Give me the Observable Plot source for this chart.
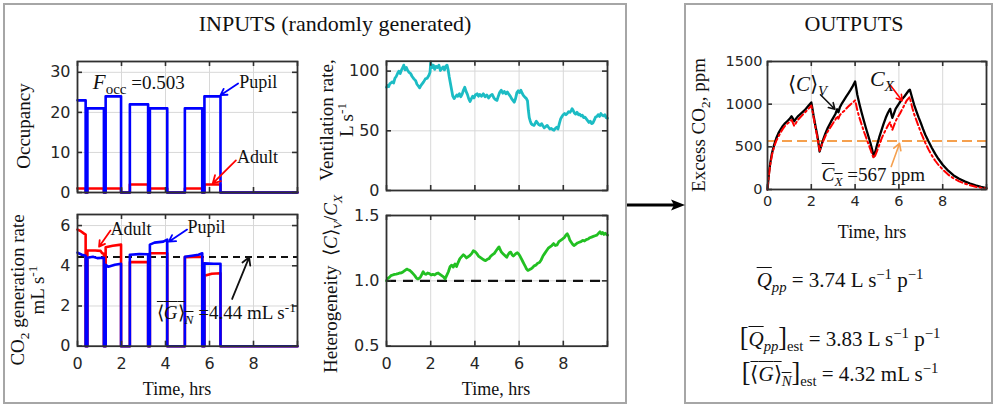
<!DOCTYPE html>
<html><head><meta charset="utf-8">
<script src="https://cdn.jsdelivr.net/npm/d3@7"></script>
<script src="https://cdn.jsdelivr.net/npm/@observablehq/plot@0.6"></script>
<style>
body{margin:0;background:#fff;}
#root{position:relative;width:995px;height:408px;overflow:hidden;background:#fff;font-family:"Liberation Serif","Times New Roman",serif;color:#111;font-weight:400;}
.box{position:absolute;border:2px solid #a6a6a6;box-sizing:border-box;}
.abs{position:absolute;white-space:nowrap;line-height:1;font-weight:400;}
.plot{position:absolute;}
.ylab{position:absolute;white-space:nowrap;transform:translate(-50%,-50%) rotate(-90deg);font-size:19px;text-align:center;line-height:1.05;font-weight:400;}
sub,sup{font-size:70%;line-height:0;}
.ol{text-decoration:overline;text-decoration-thickness:1.3px;}
.br{font-size:125%;}
</style></head>
<body><div id="root"></div>
<script>
// ---------------- DATA ----------------
// Occupancy (step after)
const occTime  = [0, 0.37, 0.45, 1.2, 1.28, 1.98, 2.38, 3.21, 3.29, 4.08, 4.88, 5.67, 5.77, 6.5, 10];
const pupilOcc = [23, 0, 21, 0, 24, 0, 22, 0, 21, 0, 21, 0, 24, 0, 0];
const adultOcc = [1, 0, 1, 0, 1, 0, 2, 0, 1, 0, 1, 0, 2, 0, 0];
// CO2 generation rate (mL/s)
const pupilGenT = [0,0.2,0.37,0.37,0.45,0.45,0.7,0.9,1.2,1.2,1.28,1.28,1.4,1.7,1.98,1.98,2.38,2.38,2.8,3.21,3.21,3.29,3.29,3.5,3.9,4.08,4.08,4.88,4.88,5.2,5.5,5.67,5.67,5.77,5.77,6.2,6.5,6.5,10];
const pupilGenV = [4.65,4.55,4.5,0,0,4.4,4.45,4.38,4.4,0,0,4.05,3.95,4.05,4.1,0,0,4.55,4.58,4.57,0,0,5.05,5.15,5.2,5.3,0,0,4.45,4.5,4.55,4.62,0,0,4.12,4.1,4.1,0,0];
const adultGenT = [0,0.15,0.3,0.37,0.37,0.45,0.45,0.8,1.05,1.12,1.2,1.2,1.28,1.28,1.6,1.98,1.98,2.38,2.38,3.21,3.21,3.29,3.29,4.08,4.08,4.88,4.88,5.67,5.67,5.77,5.77,6.1,6.5,6.5,10];
const adultGenV = [5.8,5.72,5.6,5.55,0,0,4.76,4.76,4.74,4.62,4.6,0,0,4.92,5.0,5.05,0,0,4.18,4.18,0,0,4.62,4.62,0,0,4.43,4.45,0,0,3.5,3.6,3.63,0,0];
const meanGen = 4.44;
// Ventilation rate (L/s)
const ventT = [0,0.05,0.1,0.15,0.2,0.26,0.32,0.38,0.44,0.5,0.56,0.62,0.68,0.74,0.78,0.84,0.9,0.96,1.02,1.09,1.16,1.24,1.32,1.38,1.44,1.5,1.56,1.62,1.68,1.76,1.84,1.92,1.97,2.0,2.06,2.12,2.18,2.24,2.3,2.37,2.44,2.5,2.56,2.62,2.68,2.74,2.79,2.84,2.9,2.95,3.0,3.06,3.12,3.18,3.23,3.3,3.36,3.42,3.48,3.54,3.6,3.66,3.72,3.78,3.84,3.9,3.96,4.02,4.1,4.16,4.22,4.3,4.38,4.46,4.54,4.62,4.7,4.78,4.86,4.94,5.0,5.06,5.12,5.19,5.26,5.33,5.4,5.47,5.54,5.6,5.66,5.72,5.78,5.84,5.9,5.96,6.02,6.08,6.14,6.2,6.27,6.33,6.38,6.42,6.46,6.5,6.55,6.61,6.67,6.72,6.78,6.84,6.9,6.96,7.02,7.08,7.14,7.2,7.27,7.33,7.39,7.45,7.52,7.58,7.64,7.7,7.76,7.82,7.88,7.94,8.0,8.06,8.12,8.18,8.24,8.3,8.36,8.4,8.45,8.5,8.56,8.62,8.68,8.74,8.8,8.86,8.92,8.98,9.04,9.1,9.16,9.22,9.28,9.34,9.4,9.46,9.52,9.58,9.64,9.7,9.76,9.82,9.88,9.94,10];
const ventV = [86.5,88,87,89.5,90,91,90,94,95.5,98,100,98,101,103,105,101,103,100.5,99,98,95.5,93.5,92,89,87.5,86,88,89.5,91,93.5,94,96.5,99,107,103,105,101.5,104,103,105,100.5,102,103.5,101,104,105,101,95,89,84,79,77,78.5,80,79,81,78.5,80.5,84,86.5,83,80.5,77,74.5,77,79,77.5,80,81,79,80.5,79,81,78.5,80,77.5,79.5,80.5,77.5,76,75.5,79,82,84,81.5,83,81,82.5,80.5,79,77,75.5,74,77,82,83.5,82,84,81.5,79.5,78,77,75,67,61,58.5,56,55,54.5,56,58,56.5,55,54.5,56,54,52.5,53.5,54.5,53,51.5,52,51,50.5,52,53,51.5,56,60,62,63.5,64.5,63.5,64.5,66,65.5,67,68.5,67,65,64,65.5,63.5,64,62.5,63,61,61.5,60,58.5,57,58,56,56.5,59,61.5,62,63.5,62,64.5,63,62.5,63.5,61,60.5];
// Heterogeneity <C>_V / C_X
const hetT = [0,0.06,0.12,0.2,0.28,0.36,0.44,0.52,0.6,0.68,0.76,0.84,0.92,0.98,1.05,1.12,1.2,1.28,1.36,1.42,1.48,1.54,1.6,1.66,1.72,1.78,1.86,1.94,2.02,2.1,2.18,2.26,2.34,2.42,2.5,2.58,2.65,2.72,2.8,2.88,2.95,3.02,3.1,3.17,3.24,3.32,3.4,3.48,3.55,3.62,3.7,3.78,3.86,3.93,4.0,4.08,4.16,4.24,4.32,4.4,4.48,4.56,4.64,4.72,4.8,4.88,4.96,5.04,5.09,5.14,5.2,5.26,5.32,5.38,5.44,5.5,5.56,5.62,5.68,5.74,5.8,5.86,5.92,5.98,6.04,6.1,6.16,6.22,6.28,6.34,6.4,6.46,6.52,6.6,6.68,6.76,6.84,6.92,7.0,7.08,7.16,7.24,7.32,7.4,7.48,7.56,7.64,7.72,7.8,7.88,7.96,8.04,8.12,8.18,8.24,8.3,8.36,8.42,8.48,8.56,8.64,8.72,8.8,8.88,8.96,9.04,9.12,9.2,9.28,9.36,9.44,9.52,9.6,9.66,9.72,9.78,9.84,9.9,9.96,10];
const hetV = [1.0,1.02,1.025,1.04,1.045,1.05,1.052,1.055,1.06,1.062,1.07,1.08,1.09,1.085,1.08,1.07,1.055,1.04,1.02,1.015,1.02,1.03,1.05,1.07,1.055,1.05,1.06,1.055,1.045,1.05,1.045,1.055,1.06,1.05,1.04,1.03,1.015,1.04,1.07,1.11,1.12,1.105,1.13,1.11,1.14,1.17,1.185,1.2,1.19,1.175,1.185,1.195,1.21,1.23,1.225,1.21,1.19,1.18,1.17,1.16,1.155,1.165,1.17,1.19,1.2,1.21,1.23,1.25,1.26,1.24,1.22,1.21,1.2,1.19,1.18,1.2,1.215,1.22,1.2,1.19,1.2,1.21,1.215,1.205,1.19,1.17,1.15,1.13,1.11,1.09,1.08,1.085,1.09,1.1,1.115,1.12,1.135,1.14,1.16,1.19,1.21,1.23,1.25,1.26,1.27,1.285,1.27,1.275,1.3,1.31,1.32,1.33,1.35,1.36,1.34,1.31,1.295,1.28,1.27,1.28,1.29,1.295,1.3,1.31,1.305,1.315,1.32,1.33,1.335,1.34,1.345,1.35,1.365,1.375,1.36,1.37,1.355,1.365,1.355,1.35];
// Excess CO2 outputs (ppm)
const outT = [0,0.03,0.07,0.12,0.2,0.3,0.4,0.5,0.6,0.7,0.8,0.9,1.0,1.1,1.16,1.22,1.3,1.4,1.55,1.7,1.85,2.0,2.05,2.1,2.15,2.2,2.27,2.33,2.38,2.45,2.55,2.65,2.75,2.9,3.0,3.1,3.18,3.24,3.3,3.4,3.5,3.6,3.7,3.8,3.9,4.0,4.05,4.1,4.2,4.3,4.4,4.5,4.6,4.7,4.78,4.85,4.92,5.0,5.1,5.2,5.3,5.4,5.5,5.6,5.66,5.7,5.76,5.85,5.95,6.05,6.15,6.25,6.35,6.45,6.5,6.55,6.62,6.7,6.8,6.9,7.0,7.1,7.2,7.35,7.5,7.65,7.8,8.0,8.25,8.5,8.75,9.0,9.25,9.5,9.75,10];
const cVolAvg = [0,90,200,300,420,520,600,660,705,745,775,800,825,858,830,800,830,860,895,930,975,1020,950,870,800,730,640,540,445,510,590,660,720,795,840,885,940,905,960,1010,1050,1090,1130,1170,1215,1265,1190,1110,1000,900,805,715,630,545,465,385,440,520,610,690,770,840,900,945,880,840,880,945,985,1025,1060,1090,1125,1160,1170,1125,1060,990,915,845,780,710,645,565,490,420,360,290,220,165,125,95,70,48,30,15];
const cX = [0,80,180,280,400,500,570,620,670,710,745,770,790,815,780,745,780,820,860,900,940,985,920,850,780,710,620,530,455,500,570,630,680,740,780,820,860,830,870,900,920,950,975,1000,1020,1045,990,930,840,760,680,610,540,470,410,370,400,450,520,590,650,700,750,790,730,700,740,800,850,890,940,990,1040,1070,1085,1020,950,880,810,740,670,610,550,470,400,340,290,235,175,130,95,70,50,32,20,10];
const meanCX = 567;
// Tick values
const timeTicks = [0, 2, 4, 6, 8, 10];
const occTicks = [0, 10, 20, 30];
const genTicks = [0, 2, 4, 6];
const ventTicks = [0, 50, 100];
const hetTicks = [0.5, 1.0, 1.5];
const outTicks = [0, 500, 1000, 1500];

// ---------------- BUILD ----------------
const root = document.getElementById("root");
const SERIF = '"Liberation Serif","Times New Roman",serif';
const SANS = '"DejaVu Sans",Verdana,sans-serif';
const rows = (T, ...cols) => T.map((t, i) => Object.fromEntries([["t", t], ...cols.map(([k, a]) => [k, a[i]])]));

function addDiv(cls, html, css) {
  const d = document.createElement("div");
  d.className = cls; d.innerHTML = html;
  Object.assign(d.style, css || {});
  root.appendChild(d); return d;
}

function panel(c) {
  const ml = c.fx0 - c.L, mt = c.fy0 - c.T, mr = c.L + c.W - c.fx1, mb = c.T + c.H - c.fy1;
  const fh = c.fy1 - c.fy0, fw = c.fx1 - c.fx0, tl = 5;
  const inner = (ticks, dom) => ticks.filter(d => d > dom[0] && d < dom[1]);
  const ink = "#303030";
  const marks = [
    Plot.gridX(inner(c.xTicks, c.xDomain), {stroke: "#d8d8d8", strokeOpacity: 1, strokeWidth: 1}),
    Plot.gridY(inner(c.yTicks, c.yDomain), {stroke: "#d8d8d8", strokeOpacity: 1, strokeWidth: 1}),
    ...c.marks,
    Plot.ruleX(c.xTicks, {x: d => d, insetTop: fh - tl, stroke: ink, strokeWidth: 1.6}),
    Plot.ruleX(c.xTicks, {x: d => d, insetBottom: fh - tl, stroke: ink, strokeWidth: 1.6}),
    Plot.ruleY(c.yTicks, {y: d => d, insetRight: fw - tl, stroke: ink, strokeWidth: 1.6}),
    Plot.ruleY(c.yTicks, {y: d => d, insetLeft: fw - tl, stroke: ink, strokeWidth: 1.6}),
    Plot.frame({stroke: ink, strokeWidth: 1.8}),
    Plot.axisY(c.yTicks, {tickSize: 0, tickPadding: c.yPad, tickFormat: c.yFormat || (d => String(d)), label: null, fill: "#262626"})
  ];
  if (c.xLabels) marks.push(Plot.axisX(c.xTicks.filter(d => d < 10), {tickSize: 0, tickPadding: c.xPad, label: null, fill: "#262626"}));
  const p = Plot.plot({
    width: c.W, height: c.H, marginLeft: ml, marginTop: mt, marginRight: mr, marginBottom: mb,
    x: {domain: c.xDomain, ...(c.xLabels ? {} : {axis: null})},
    y: {domain: c.yDomain},
    style: {fontFamily: SANS, fontSize: c.tickSize + "px", background: "transparent", overflow: "visible", color: "#262626"},
    marks
  });
  p.classList.add("plot");
  p.style.left = c.L + "px"; p.style.top = c.T + "px";
  root.appendChild(p);
  const xs = p.scale("x"), ys = p.scale("y");
  // place HTML annotation by data coords (baseline anchored)
  p.note = (html, x, y, size, align) => {
    const d = addDiv("abs", html, {fontSize: size + "px"});
    const px = c.L + xs.apply(x), py = c.T + ys.apply(y);
    d.style.left = px + "px";
    d.style.top = (py - 0.84 * size) + "px";
    if (align === "middle") d.style.transform = "translateX(-50%)";
    return d;
  };
  return p;
}

// Boxes and titles
addDiv("box", "", {left: "3px", top: "3px", width: "624px", height: "401px"});
addDiv("box", "", {left: "684px", top: "3px", width: "309px", height: "401px"});
addDiv("abs", "INPUTS (randomly generated)", {left: "335px", top: (31 - 0.84 * 22) + "px", fontSize: "22px", transform: "translateX(-50%)"});
addDiv("abs", "OUTPUTS", {left: "854px", top: (31 - 0.84 * 22) + "px", fontSize: "22px", transform: "translateX(-50%)"});

// connecting arrow
addDiv("abs", '<svg width="62" height="16"><line x1="0" y1="8" x2="48" y2="8" stroke="#000" stroke-width="3"/><path d="M58,8 L44,2.5 L47,8 L44,13.5 Z" fill="#000"/></svg>', {left: "627px", top: "197px"});

const occRows = rows(occTime, ["pupil", pupilOcc], ["adult", adultOcc]);
const pA = panel({
  L: 30, T: 50, W: 280, H: 150, fx0: 77, fx1: 297, fy0: 61, fy1: 192,
  xDomain: [0, 10], yDomain: [0, 32.7], xTicks: timeTicks, yTicks: occTicks,
  xLabels: false, yPad: 7, tickSize: 16,
  marks: [
    Plot.line(occRows, {x: "t", y: "adult", curve: "step-after", stroke: "#ff0000", strokeWidth: 2.6}),
    Plot.line(occRows, {x: "t", y: "pupil", curve: "step-after", stroke: "#0000ff", strokeWidth: 2.6}),
    Plot.text(["Pupil"], {x: 7.35, y: 27.6, text: d => d, textAnchor: "start", fontFamily: SERIF, fontSize: 18, fill: "#111"}),
    Plot.arrow([0], {x1: 7.3, y1: 27.2, x2: 6.5, y2: 24.3, stroke: "#0000ff", strokeWidth: 1.8, headLength: 7}),
    Plot.text(["Adult"], {x: 7.25, y: 8.8, text: d => d, textAnchor: "start", fontFamily: SERIF, fontSize: 18, fill: "#111"}),
    Plot.arrow([0], {x1: 7.2, y1: 8.0, x2: 6.15, y2: 2.3, stroke: "#ff0000", strokeWidth: 1.8, headLength: 7})
  ]
});
pA.note('<i style="font-size:21px">F</i><sub style="font-size:15px">occ</sub> =0.503', 0.72, 26, 19);

const pupGenRows = rows(pupilGenT, ["v", pupilGenV]);
const adGenRows = rows(adultGenT, ["v", adultGenV]);
const pB = panel({
  L: 30, T: 205, W: 280, H: 175, fx0: 77, fx1: 297, fy0: 214, fy1: 345.7,
  xDomain: [0, 10], yDomain: [0, 6.55], xTicks: timeTicks, yTicks: genTicks,
  xLabels: true, yPad: 7, xPad: 11, tickSize: 16,
  marks: [
    Plot.ruleY([meanGen], {stroke: "#111", strokeWidth: 2, strokeDasharray: "7,5"}),
    Plot.line(adGenRows, {x: "t", y: "v", stroke: "#ff0000", strokeWidth: 2.6}),
    Plot.line(pupGenRows, {x: "t", y: "v", stroke: "#0000ff", strokeWidth: 2.6}),
    Plot.text(["Adult"], {x: 1.5, y: 5.82, text: d => d, textAnchor: "start", fontFamily: SERIF, fontSize: 18, fill: "#111"}),
    Plot.arrow([0], {x1: 1.5, y1: 5.75, x2: 0.98, y2: 4.95, stroke: "#ff0000", strokeWidth: 1.8, headLength: 7}),
    Plot.text(["Pupil"], {x: 5.0, y: 5.9, text: d => d, textAnchor: "start", fontFamily: SERIF, fontSize: 18, fill: "#111"}),
    Plot.arrow([0], {x1: 4.98, y1: 5.8, x2: 4.15, y2: 5.2, stroke: "#0000ff", strokeWidth: 1.8, headLength: 7}),
    Plot.arrow([0], {x1: 7.03, y1: 2.35, x2: 7.8, y2: 4.42, stroke: "#111", strokeWidth: 1.8, headLength: 7})
  ]
});
pB.note('<span class="ol">⟨<i>G</i>⟩<sub><i>N</i></sub></span> =4.44 mL s<sup>-1</sup>', 3.63, 1.35, 19);

const ventRows = rows(ventT, ["v", ventV]);
const pC = panel({
  L: 340, T: 50, W: 280, H: 150, fx0: 386, fx1: 607, fy0: 60.7, fy1: 190,
  xDomain: [0, 10], yDomain: [0, 108.3], xTicks: timeTicks, yTicks: ventTicks,
  xLabels: false, yPad: 7, tickSize: 16,
  marks: [
    Plot.line(ventRows, {x: "t", y: "v", stroke: "#1cbcc4", strokeWidth: 2.8})
  ]
});

const hetRows = rows(hetT, ["v", hetV]);
const pD = panel({
  L: 340, T: 205, W: 280, H: 175, fx0: 386, fx1: 607, fy0: 215, fy1: 345.7,
  xDomain: [0, 10], yDomain: [0.5, 1.5], xTicks: timeTicks, yTicks: hetTicks,
  xLabels: true, yPad: 7, xPad: 11, tickSize: 16, yFormat: d3.format(".1f"),
  marks: [
    Plot.ruleY([1.0], {stroke: "#111", strokeWidth: 2.2, strokeDasharray: "10,7"}),
    Plot.line(hetRows, {x: "t", y: "v", stroke: "#22c022", strokeWidth: 2.8})
  ]
});

const outRows = rows(outT, ["cv", cVolAvg], ["cx", cX]);
const pE = panel({
  L: 720, T: 50, W: 272, H: 165, fx0: 767, fx1: 986, fy0: 61, fy1: 189,
  xDomain: [0, 10], yDomain: [0, 1500], xTicks: timeTicks, yTicks: outTicks,
  xLabels: true, yPad: 5, xPad: 6, tickSize: 14.5,
  marks: [
    Plot.ruleY([meanCX], {stroke: "#f5a04e", strokeWidth: 2, strokeDasharray: "10,5"}),
    Plot.line(outRows, {x: "t", y: "cv", stroke: "#000", strokeWidth: 2.3}),
    Plot.line(outRows, {x: "t", y: "cx", stroke: "#ff0000", strokeWidth: 2, strokeDasharray: "7,3,2,3"}),
    Plot.arrow([0], {x1: 2.42, y1: 1110, x2: 3.08, y2: 940, stroke: "#111", strokeWidth: 1.6, headLength: 7}),
    Plot.arrow([0], {x1: 5.62, y1: 1220, x2: 6.15, y2: 1040, stroke: "#ff0000", strokeWidth: 1.6, headLength: 7}),
    Plot.arrow([0], {x1: 5.65, y1: 270, x2: 6.03, y2: 540, stroke: "#f5a04e", strokeWidth: 1.6, headLength: 7})
  ]
});
pE.note('⟨<i>C</i>⟩<sub><i>V</i></sub>', 0.96, 1140, 21);
pE.note('<i>C</i><sub><i>X</i></sub>', 4.7, 1200, 22);
pE.note('<span class="ol"><i>C</i><sub><i>X</i></sub></span> =567 ppm', 2.5, 100, 19);

// Axis labels
addDiv("ylab", "Occupancy", {left: "24px", top: "126px"});
addDiv("ylab", "CO<sub>2</sub> generation rate<br>mL s<sup>-1</sup>", {left: "28px", top: "290px"});
addDiv("ylab", "Ventilation rate,<br>L s<sup>-1</sup>", {left: "337px", top: "120px"});
addDiv("ylab", "Heterogeneity &nbsp;⟨<i>C</i>⟩<sub><i>V</i></sub>/<i>C</i><sub><i>X</i></sub>", {left: "331px", top: "284px"});
addDiv("ylab", "Excess CO<sub>2</sub>, ppm", {left: "699px", top: "125px"});
addDiv("abs", "Time, hrs", {left: "177px", top: (395 - 0.84 * 18) + "px", fontSize: "18px", transform: "translateX(-50%)"});
addDiv("abs", "Time, hrs", {left: "496px", top: (395 - 0.84 * 18) + "px", fontSize: "18px", transform: "translateX(-50%)"});
addDiv("abs", "Time, hrs", {left: "872px", top: (238 - 0.84 * 18) + "px", fontSize: "18px", transform: "translateX(-50%)"});

// Result formulas
const fcss = (b) => ({left: "840px", top: (b - 0.84 * 21) + "px", fontSize: "21px", transform: "translateX(-50%)"});
addDiv("abs", '<span class="ol"><i>Q</i></span><sub><i>pp</i></sub> = 3.74 L s<sup>−1</sup> p<sup>−1</sup>', fcss(288));
addDiv("abs", '<span class="br">[</span><span class="ol"><i>Q</i></span><sub><i>pp</i></sub><span class="br">]</span><sub>est</sub> = 3.83 L s<sup>−1</sup> p<sup>−1</sup>', fcss(343));
addDiv("abs", '<span class="br">[</span><span class="ol">⟨<i>G</i>⟩<sub><i>N</i></sub></span><span class="br">]</span><sub>est</sub> = 4.32 mL s<sup>−1</sup>', fcss(378));
</script>
</body></html>
